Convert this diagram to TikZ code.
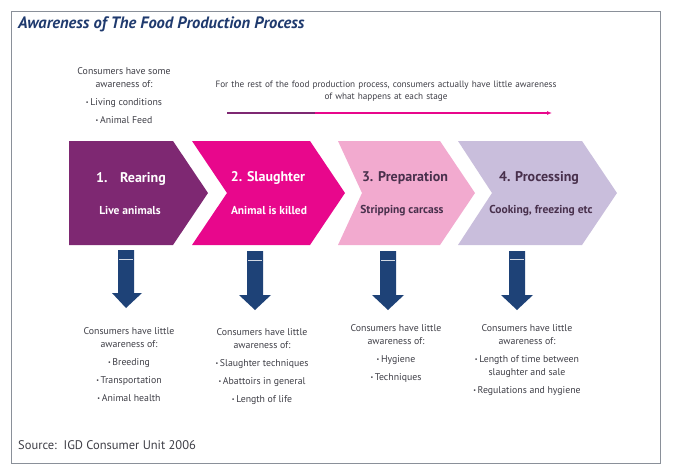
\documentclass[tikz,border=0pt]{standalone}
\usepackage{fontspec}
\setmainfont{PT Sans}
\usetikzlibrary{arrows.meta}
\definecolor{rearcol}{HTML}{7E2872}
\definecolor{slaughtercol}{HTML}{E8078C}
\definecolor{prepcol}{HTML}{F2AACF}
\definecolor{proccol}{HTML}{C9BEDC}
\definecolor{darkstage}{HTML}{48304C}
\definecolor{arrowblue}{HTML}{1E4277}
\definecolor{titleblue}{HTML}{1F3A6E}
\definecolor{textgrey}{HTML}{3E3E46}
\definecolor{framegrey}{HTML}{8A9099}
\newcommand{\bul}{{\fontsize{6}{6}\selectfont\raisebox{0.6pt}{•}}\,}
\tikzset{
  stagehead/.style={font=\fontsize{14}{16}\selectfont\bfseries, inner sep=0pt, anchor=base},
  stagesub/.style={font=\fontsize{11.5}{13}\selectfont\bfseries, inner sep=0pt, anchor=base},
  awaretext/.style={font=\fontsize{9.8}{13}\selectfont, text=textgrey, align=center, inner sep=0pt, anchor=base},
  downarrow/.style={fill=arrowblue},
}
\begin{document}
\begin{tikzpicture}[x=1pt,y=-1pt]
\useasboundingbox (0,0) rectangle (673,475);
\draw[framegrey, line width=1pt] (11,11) rectangle (660,463);
\node[font=\fontsize{16.5}{18}\selectfont\bfseries\itshape, text=titleblue, inner sep=0pt, anchor=base west] (title) at (18,28) {Awareness of The Food Production Process};

% top notes
\node[awaretext] (some aware) at (124,123) {Consumers have some\\awareness of:\\[5pt]\bul Living conditions\\[5pt]\bul Animal Feed};
\node[awaretext, text width=380pt, font=\fontsize{9.2}{12}\selectfont] (rest aware) at (386,87) {For the rest of the food production process, consumers actually have little awareness\\of what happens at each stage};
\coordinate (rest start) at (227,113);
\coordinate (rest mid) at (315,113);
\coordinate (rest end) at (552,113);
\path[draw,rearcol,line width=1.1pt] (rest start) -- (rest mid);
\path[draw,slaughtercol,line width=1.1pt,-{Latex[length=5pt,width=4pt]}] (rest mid) -- (rest end);

% stages
\fill[rearcol] (69,141) -- (173,141) -- (208,193) -- (173,245) -- (69,245) -- cycle;
\fill[slaughtercol] (192,141) -- (310,141) -- (345,193) -- (310,245) -- (192,245) -- (227,193) -- cycle;
\fill[prepcol] (338,141) -- (440,141) -- (475,193) -- (440,245) -- (338,245) -- (362,193) -- cycle;
\fill[proccol] (458,141) -- (582,141) -- (617,193) -- (582,245) -- (458,245) -- (492,193) -- cycle;

\node[stagehead, text=white] (rearing) at (131,182) {1.\hspace{0.9em}Rearing};
\node[stagesub, text=white] (rearing sub) at (130,214) {Live animals};
\node[stagehead, text=white] (slaughter) at (268,181) {2. Slaughter};
\node[stagesub, text=white] (slaughter sub) at (269,214) {Animal is killed};
\node[stagehead, text=darkstage] (preparation) at (405,181) {3. Preparation};
\node[stagesub, text=darkstage] (preparation sub) at (402,213) {Stripping carcass};
\node[stagehead, text=darkstage] (processing) at (539,181) {4. Processing};
\node[stagesub, text=darkstage] (processing sub) at (541,213) {Cooking, freezing etc};

% down arrows
\fill[downarrow] (118,250) -- (134,250) -- (134,293) -- (142,293) -- (126,308) -- (112,293) -- (118,293) -- cycle;
\fill[downarrow] (247,251) -- (263,251) -- (263,295) -- (271,295) -- (255,310) -- (239,295) -- (247,295) -- cycle;
\fill[downarrow] (380,251) -- (396,251) -- (396,295) -- (404,295) -- (388,310) -- (372,295) -- (380,295) -- cycle;
\fill[downarrow] (509,251) -- (525,251) -- (525,295) -- (533,295) -- (517,310) -- (501,295) -- (509,295) -- cycle;
\path[draw,white!80!arrowblue,line width=0.6pt] (119,259) -- (133,259);
\path[draw,white!80!arrowblue,line width=0.6pt] (248,260) -- (262,260);
\path[draw,white!80!arrowblue,line width=0.6pt] (381,260) -- (395,260);
\path[draw,white!80!arrowblue,line width=0.6pt] (510,259) -- (524,259);

% little awareness (base = last line)
\node[awaretext] (rearing aware) at (129,401) {Consumers have little\\awareness of:\\[5pt]\bul Breeding\\[5pt]\bul Transportation\\[5pt]\bul Animal health};
\node[awaretext] (slaughter aware) at (262,402) {Consumers have little\\awareness of:\\[5pt]\bul Slaughter techniques\\[5pt]\bul Abattoirs in general\\[5pt]\bul Length of life};
\node[awaretext] (preparation aware) at (396,380) {Consumers have little\\awareness of:\\[5pt]\bul Hygiene\\[5pt]\bul Techniques};
\node[awaretext] (processing aware) at (527,393) {Consumers have little\\awareness of:\\[5pt]\bul Length of time between\\slaughter and sale\\[5pt]\bul Regulations and hygiene};

\node[font=\fontsize{12.5}{14}\selectfont, text=textgrey, inner sep=0pt, anchor=base west] (source) at (18,449) {Source:\ \ IGD Consumer Unit 2006};
\end{tikzpicture}
\end{document}
